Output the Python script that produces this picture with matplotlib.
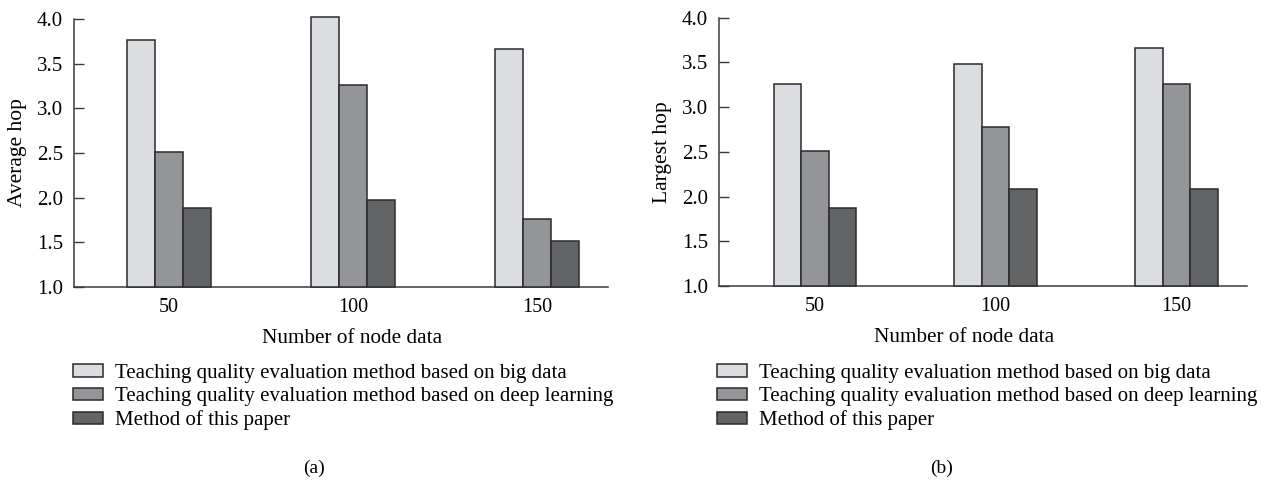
import numpy as np
import matplotlib
matplotlib.use("Agg")
import matplotlib.pyplot as plt

plt.rcParams['font.family'] = ['Liberation Serif', 'DejaVu Serif']

# number of node data on the x axis
node_counts = ["50", "100", "150"]

series_names = [
    "Teaching quality evaluation method based on big data",
    "Teaching quality evaluation method based on deep learning",
    "Method of this paper",
]

# (a) average hop per method
avg_big_data = [3.76, 4.02, 3.66]
avg_deep_learning = [2.51, 3.26, 1.76]
avg_this_paper = [1.88, 1.97, 1.52]

# (b) largest hop per method
max_big_data = [3.26, 3.48, 3.66]
max_deep_learning = [2.51, 2.78, 3.26]
max_this_paper = [1.87, 2.08, 2.08]

bar_colors = ["#dcdde0", "#939598", "#636466"]
edge_color = "#2b2b2b"
spine_color = "#3a3a3a"
bar_w = 0.152


def draw_panel(ax, values, ylabel, xlim):
    x = np.arange(len(node_counts))
    handles = []
    for i, (vals, col) in enumerate(zip(values, bar_colors)):
        # bars start at the 1.0 baseline; clip_on off so 4.02 pokes above the axis
        h = ax.bar(x + (i - 1) * bar_w, np.array(vals) - 1.0, bar_w, bottom=1.0,
                   color=col, edgecolor=edge_color, linewidth=1.1, zorder=3,
                   clip_on=False)
        handles.append(h)
    ax.set_ylim(1.0, 4.0)
    ax.set_xlim(*xlim)
    ax.set_yticks([1.0, 1.5, 2.0, 2.5, 3.0, 3.5, 4.0])
    ax.set_yticklabels([f"{v:.1f}" for v in ax.get_yticks()])
    ax.set_xticks(x)
    ax.set_xticklabels(node_counts)
    ax.tick_params(axis='y', direction='in', length=7, width=1.0,
                   color=spine_color, labelsize=15, pad=8)
    ax.tick_params(axis='x', length=0, labelsize=14.5, pad=8)
    for s in ("top", "right"):
        ax.spines[s].set_visible(False)
    for s in ("left", "bottom"):
        ax.spines[s].set_color(spine_color)
        ax.spines[s].set_linewidth(1.1)
    ax.set_ylabel(ylabel, fontsize=15.5, labelpad=7)
    return handles


fig = plt.figure(figsize=(12.85, 4.83), dpi=100)

ax_a = fig.add_axes([0.0576, 0.4058, 0.4156, 0.5549])
ax_b = fig.add_axes([0.5595, 0.4079, 0.4109, 0.5555])

h_a = draw_panel(ax_a, [avg_big_data, avg_deep_learning, avg_this_paper],
                 "Average hop", (-0.516, 2.386))
h_b = draw_panel(ax_b, [max_big_data, max_deep_learning, max_this_paper],
                 "Largest hop", (-0.53, 2.39))

ax_a.set_xlabel("Number of node data", fontsize=15.3)
ax_a.xaxis.set_label_coords(0.52, -0.155)
ax_b.set_xlabel("Number of node data", fontsize=15.3)
ax_b.xaxis.set_label_coords(0.465, -0.155)

for handles, x0 in ((h_a, 73 / 1285), (h_b, 717 / 1285)):
    fig.legend(handles, series_names, loc="upper left",
               bbox_to_anchor=(x0, 1 - 364 / 483), bbox_transform=fig.transFigure,
               frameon=False, fontsize=15, borderpad=0, borderaxespad=0,
               handlelength=1.45, handleheight=0.55, handletextpad=0.55,
               labelspacing=0.2)

fig.text(314 / 1285, 1 - 468 / 483, "(a)", ha="center", va="center", fontsize=14)
fig.text(942 / 1285, 1 - 468 / 483, "(b)", ha="center", va="center", fontsize=14)

fig.savefig("out.png", dpi=100)
